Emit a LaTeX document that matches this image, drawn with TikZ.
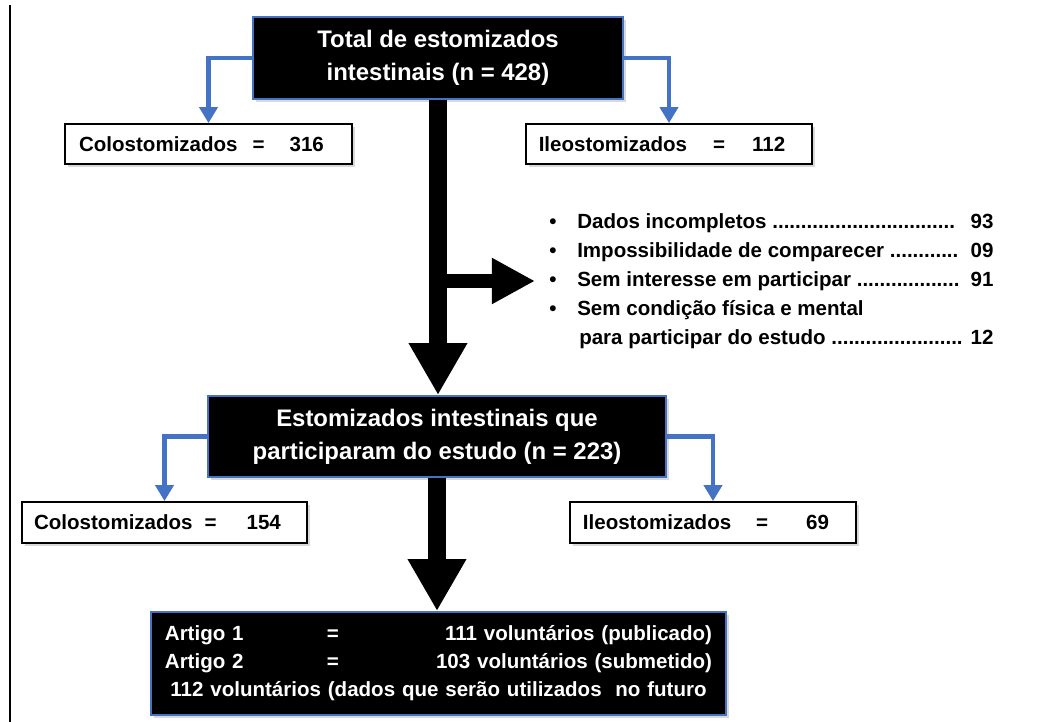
\documentclass[tikz,border=0pt]{standalone}
\usepackage{fontspec}
\setmainfont{Liberation Sans}
\usepackage{xcolor}
\usetikzlibrary{arrows.meta,positioning,shadows}
\definecolor{boxblue}{HTML}{4472C4}

\begin{document}
\begin{tikzpicture}[x=0.025cm, y=-0.025cm,
		arrow/.style = {draw=boxblue, line width=3.5pt, -{Triangle[width=0.45cm,length=0.4cm]}},
		bigarrow/.style = {draw=black, line width=0.45cm, -{Triangle[width=1.375cm,length=1.3cm]}},
		sidearrow/.style = {draw=black, line width=0.33cm, -{Triangle[width=1.08cm,length=1.08cm]}}]
		\tikzset{darkbox/.style={draw=boxblue, line width=1.3pt, fill=black, text=white, inner sep=0pt, align=center, font=\bfseries\fontsize{17}{23.5}\selectfont, drop shadow={opacity=0.3, shadow xshift=0.08cm, shadow yshift=-0.08cm}}}
		\tikzset{countbox/.style={draw=black, line width=1.3pt, fill=white, inner sep=0pt, minimum height=1cm, font=\bfseries\fontsize{14.6}{20}\selectfont, drop shadow={opacity=0.3, shadow xshift=0.08cm, shadow yshift=-0.08cm}}}

		\useasboundingbox (0,0) rectangle (1060,722);

		% page edge
		\draw[line width=1.5pt] (10,5) -- (10,722);

		% Totals
		\node[darkbox, minimum width=9.25cm, minimum height=2.05cm] (total) at (438,58) {Total de estomizados\\intestinais (n = 428)};

		\node[countbox, minimum width=7.175cm] (colo1) at (208.5,144) {Colostomizados\hspace{0.375cm}=\hspace{0.625cm}316\hspace{0.35cm}\mbox{}};

		\node[countbox, minimum width=7.15cm] (ileo1) at (669,144) {Ileostomizados\hspace{0.65cm}=\hspace{0.675cm}112\hspace{0.35cm}\mbox{}};

		% Exclusions
		\node[anchor=west, inner xsep=0.35cm, inner ysep=0pt, font=\bfseries\fontsize{14.6}{20.6}\selectfont] (reasons) at (535,281) {%
			\begin{tabular}{@{}l@{\hspace{0.52cm}}l@{\hspace{0.2cm}}r@{}}
				\textbullet & Dados incompletos ................................ & 93\\
				\textbullet & Impossibilidade de comparecer ............ & 09\\
				\textbullet & Sem interesse em participar .................. & 91\\
				\textbullet & Sem condição física e mental & \\
				 & \hspace{0.05cm}para participar do estudo ....................... & \hspace{-0.15cm}12
			\end{tabular}};

		% Participants
		\node[darkbox, minimum width=11.45cm, minimum height=2.025cm] (mid) at (437,436.5) {Estomizados intestinais que\\participaram do estudo (n = 223)};

		\node[countbox, minimum width=7.125cm, minimum height=1.025cm] (colo2) at (164.5,522.5) {Colostomizados\hspace{0.3cm}=\hspace{0.75cm}154\hspace{0.35cm}\mbox{}};

		\node[countbox, minimum width=7.15cm, minimum height=1.025cm] (ileo2) at (713,522.5) {Ileostomizados\hspace{0.625cm}=\hspace{0.95cm}69\hspace{0.35cm}\mbox{}};

		% Articles
		\node[darkbox, minimum width=14.375cm, minimum height=2.575cm, align=left, text width=13.675cm, font=\bfseries\fontsize{14.6}{19.9}\selectfont] (result) at (438.5,663.5) {\makebox[4.05cm][l]{Artigo 1}=\hfill 111 voluntários (publicado)\\\makebox[4.05cm][l]{Artigo 2}=\hfill 103 voluntários (submetido)\\\hspace*{\fill}112 voluntários (dados que serão utilizados\ \ no futuro\hspace*{\fill}};

		% Arrows
		\coordinate (branch) at (439,281);

		\draw [bigarrow] (total.south) -- (total.south |- mid.north);
		\draw [sidearrow] (branch) -- (reasons.west);
		\draw [bigarrow] (mid.south) -- (mid.south |- result.north);
		\draw [arrow] (total.west) -| (colo1.north);
		\draw [arrow] (total.east) -| (ileo1.north);
		\draw [arrow] (mid.west) -| (colo2.north);
		\draw [arrow] (mid.east) -| (ileo2.north);

	\end{tikzpicture}
\end{document}
